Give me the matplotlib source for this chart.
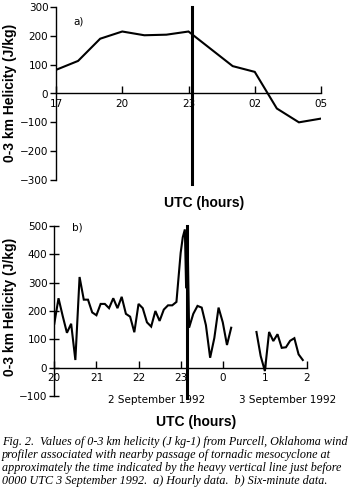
import numpy as np
import matplotlib
matplotlib.use("Agg")
import matplotlib.pyplot as plt

# ---- data ----
# a) hourly data (hours since 00 UTC 2 Sep; 24+ = 3 Sep)
hourly_t = [17, 18, 19, 20, 21, 22, 23, 24, 25, 26, 27, 28, 29]
hourly_v = [82, 113, 190, 215, 202, 204, 215, 155, 95, 75, -52, -100, -87]
a_xticks = [17, 20, 23, 26, 29]
a_xticklabels = ["17", "20", "23", "02", "05"]

# b) six-minute data
six_t = [20.0, 20.1, 20.2, 20.3, 20.4, 20.5, 20.6, 20.7, 20.8, 20.9,
         21.0, 21.1, 21.2, 21.3, 21.4, 21.5, 21.6, 21.7, 21.8, 21.9,
         22.0, 22.1, 22.2, 22.3, 22.4, 22.5, 22.6, 22.7, 22.8, 22.9,
         23.0, 23.05, 23.1, 23.13, 23.16, 23.2, 23.3, 23.4, 23.5, 23.6,
         23.7, 23.8, 23.9, 24.0, 24.1, 24.2, 24.5,
         24.8, 24.9, 25.0, 25.1, 25.2, 25.3, 25.4, 25.5, 25.6, 25.7,
         25.8, 25.9]
six_v = [155, 245, 182, 123, 155, 27, 320, 240, 240, 195,
         185, 225, 225, 210, 245, 210, 250, 190, 180, 125,
         225, 210, 160, 145, 200, 165, 205, 220, 220, 232,
         405, 460, 488, 280, 500, 141, 190, 218, 212, 150,
         35, 105, 212, 160, 80, 141, np.nan,
         126, 41, -12, 126, 94, 118, 70, 72, 95, 104,
         47, 27]
b_xticks = [20, 21, 22, 23, 24, 25, 26]
b_xticklabels = ["20", "21", "22", "23", "0", "1", "2"]

event_time = 23.15

caption = ("Fig. 2.  Values of 0-3 km helicity (J kg-1) from Purcell, Oklahoma wind\n"
           "profiler associated with nearby passage of tornadic mesocyclone at\n"
           "approximately the time indicated by the heavy vertical line just before\n"
           "0000 UTC 3 September 1992.  a) Hourly data.  b) Six-minute data.")

# ---- figure ----
W, H = 352, 490
fig = plt.figure(figsize=(W / 100, H / 100), dpi=100)
fig.patch.set_facecolor("white")

tick_font = dict(family="DejaVu Sans", size=7.5)
lab_font = dict(family="Liberation Sans", size=10, weight="bold")


def style(ax):
    for s in ("top", "right"):
        ax.spines[s].set_visible(False)
    ax.spines["bottom"].set_position(("data", 0))
    ax.spines["left"].set_linewidth(1.0)
    ax.spines["bottom"].set_linewidth(1.0)
    ax.tick_params(axis="y", direction="out", length=4, width=1, pad=1.5,
                   labelsize=7.5)
    ax.tick_params(axis="x", direction="in", length=5, width=1, pad=4,
                   labelsize=7.5)
    for lab in ax.get_xticklabels() + ax.get_yticklabels():
        lab.set_fontfamily("DejaVu Sans")


# panel a
axa = fig.add_axes([56 / W, 1 - 180 / H, 265 / W, 173 / H])
axa.plot(hourly_t, hourly_v, color="black", lw=1.5, solid_joinstyle="miter")
axa.set_xlim(17, 29)
axa.set_ylim(-300, 300)
axa.set_yticks(range(-300, 301, 100))
axa.set_xticks(a_xticks)
axa.set_xticklabels(a_xticklabels)
style(axa)
axa.plot([event_time, event_time], [-315, 300], color="black", lw=2.2,
         clip_on=False)
axa.text(0.065, 0.90, "a)", transform=axa.transAxes, fontfamily="DejaVu Sans",
         fontsize=7.5)
fig.text(10 / W, 1 - 93 / H, "0-3 km Helicity (J/kg)", rotation=90,
         ha="center", va="center", **lab_font)
fig.text(204 / W, 1 - 203 / H, "UTC (hours)", ha="center", va="center",
         **lab_font)

# panel b
axb = fig.add_axes([54.3 / W, 1 - 396 / H, 252.7 / W, 170 / H])
axb.plot(six_t, six_v, color="black", lw=1.5, solid_joinstyle="miter")
axb.set_xlim(20, 26)
axb.set_ylim(-100, 500)
axb.set_yticks(range(-100, 501, 100))
axb.set_xticks(b_xticks)
axb.set_xticklabels(b_xticklabels)
style(axb)
axb.tick_params(axis="y", direction="inout", length=7)
axb.plot([event_time, event_time], [-108, 500], color="black", lw=2.2,
         clip_on=False)
axb.text(0.07, 0.99, "b)", transform=axb.transAxes, fontfamily="DejaVu Sans",
         fontsize=7.5, va="center")
axb.text(22.44, -114, "2 September 1992", ha="center", va="center",
         **tick_font)
axb.text(25.53, -114, "3 September 1992", ha="center", va="center",
         **tick_font)
fig.text(10 / W, 1 - 307 / H, "0-3 km Helicity (J/kg)", rotation=90,
         ha="center", va="center", **lab_font)
fig.text(196 / W, 1 - 422 / H, "UTC (hours)", ha="center", va="center",
         **lab_font)

# caption
fig.text(2 / W, 1 - 436 / H, caption, ha="left", va="top",
         family="Liberation Serif", style="italic", fontsize=8.7,
         linespacing=1.12)

fig.savefig("out.png", dpi=100, facecolor="white")
